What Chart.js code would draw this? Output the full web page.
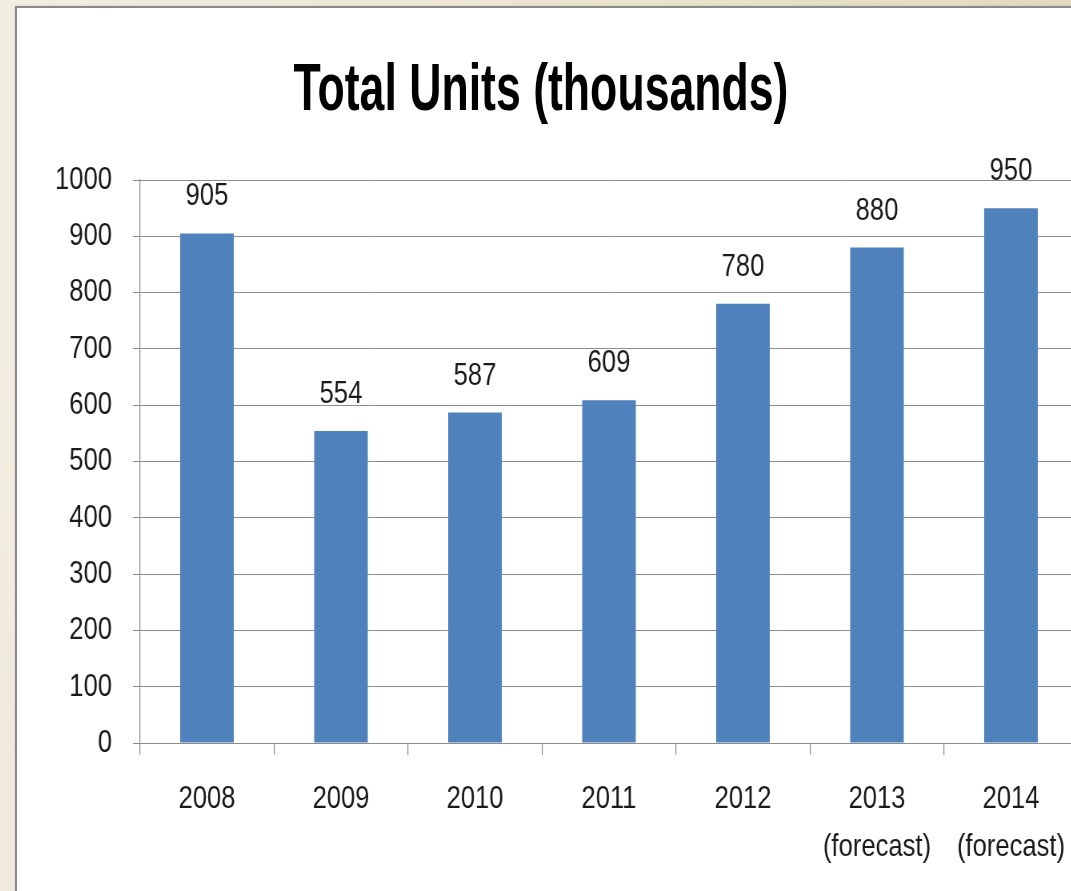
<!DOCTYPE html>
<html>
<head>
<meta charset="utf-8">
<script src="https://cdn.jsdelivr.net/npm/chart.js@4/dist/chart.umd.min.js"></script>
<style>
  html, body { margin: 0; padding: 0; width: 1071px; height: 891px; overflow: hidden; }
  body { background: linear-gradient(100deg, #f1ede1 0%, #ece6d2 40%, #e0d8bb 100%); position: relative; }
  #panel { position: absolute; left: 15px; top: 6px; width: 1120px; height: 920px; background: #fff; border: 2px solid #8a8a8a; box-shadow: 1px 1px 3px rgba(0,0,0,0.25); }
  #titulo { position: absolute; left: 541px; top: 54px; font-family: 'Liberation Sans', Arial, sans-serif; font-weight: bold; font-size: 66px; line-height: 66px; color: #000; white-space: nowrap; transform: translateX(-50%) scaleX(0.676); }
  /* o texto original é estreito (Calibri): comprime o canvas na horizontal */
  #chart { position: absolute; left: 17px; top: 9px; transform: scaleX(0.8); transform-origin: 0 0; }
</style>
</head>
<body>
<div id="panel"></div>
<div id="titulo">Total Units (thousands)</div>
<canvas id="chart" width="1400" height="882"></canvas>
<script>
// dados
const anos = [["2008"], ["2009"], ["2010"], ["2011"], ["2012"], ["2013", "(forecast)"], ["2014", "(forecast)"]];
const unidades = [905, 554, 587, 609, 780, 880, 950];
const marcasY = [0, 100, 200, 300, 400, 500, 600, 700, 800, 900, 1000];

const fonte = "'Liberation Sans', Arial, sans-serif";
const cinza = "#8c8c8c";
const corTexto = "#1a1a1a";

// rótulos em cima das barras
const rotulosBarras = {
  id: "rotulosBarras",
  afterDatasetsDraw(chart) {
    const ctx = chart.ctx;
    const meta = chart.getDatasetMeta(0);
    ctx.save();
    ctx.font = "32px " + fonte;
    ctx.fillStyle = corTexto;
    ctx.textAlign = "center";
    ctx.textBaseline = "alphabetic";
    meta.data.forEach((barra, i) => {
      ctx.fillText(String(unidades[i]), barra.x, barra.y - 28);
    });
    ctx.restore();
  },
};

new Chart(document.getElementById("chart").getContext("2d"), {
  type: "bar",
  data: {
    labels: anos,
    datasets: [
      {
        data: unidades,
        backgroundColor: "#4f81bd",
        categoryPercentage: 1,
        barPercentage: 0.4,
      },
    ],
  },
  options: {
    responsive: false,
    animation: false,
    layout: { padding: { left: 0, right: 73.75, top: 171, bottom: 0 } },
    plugins: {
      legend: { display: false },
      tooltip: { enabled: false },
      title: { display: false },
    },
    scales: {
      x: {
        grid: { drawOnChartArea: false, drawTicks: true, tickLength: 12, color: cinza, lineWidth: 1.25, offset: true },
        border: { display: true, color: cinza, width: 1 },
        ticks: { color: corTexto, font: { family: fonte, size: 32, lineHeight: 1.5 }, padding: 20, maxRotation: 0, autoSkip: false },
        afterFit: (s) => { s.height = 148; },
      },
      y: {
        min: 0,
        max: 1000,
        afterBuildTicks: (s) => { s.ticks = marcasY.map((v) => ({ value: v })); },
        grid: { color: cinza, lineWidth: 1, tickLength: 8.75 },
        border: { display: true, color: cinza, width: 1.25 },
        ticks: { color: corTexto, font: { family: fonte, size: 32 }, padding: 26.25, callback: (v) => String(v) },
        afterFit: (s) => { s.width = 153.75; },
      },
    },
  },
  plugins: [rotulosBarras],
});
</script>
</body>
</html>
